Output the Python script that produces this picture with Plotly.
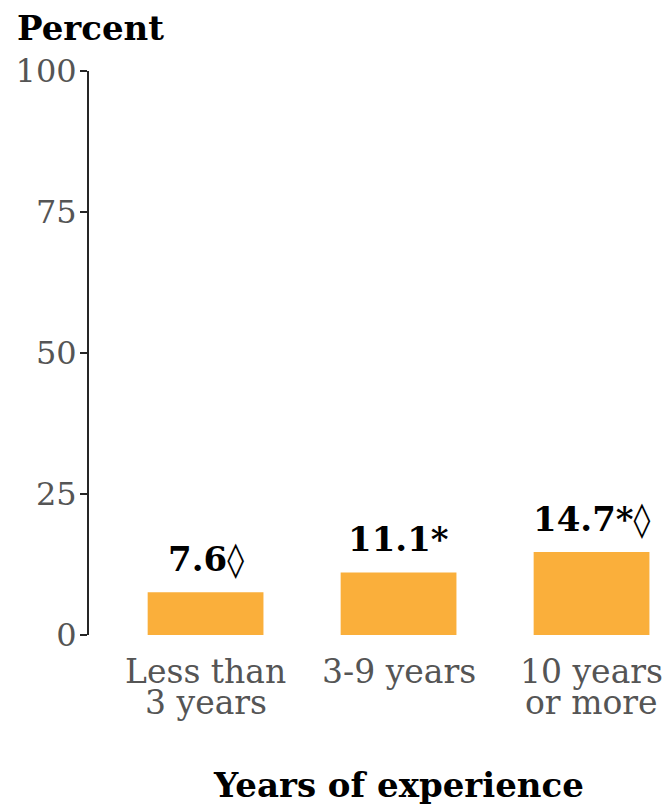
import plotly.graph_objects as go

# Share of teachers by years of experience
categories = ["Less than 3 years", "3-9 years", "10 years or more"]
label_line1 = ["Less than", "3-9 years", "10 years"]
label_line2 = ["3 years", "", "or more"]
values = [7.6, 11.1, 14.7]
value_marks = ["◊", "*", "*◊"]
y_ticks = [0, 25, 50, 75, 100]

SERIF = "DejaVu Serif"
BAR_COLOR = "#FAAF3B"
TICK_GRAY = "#555555"
AXIS_COLOR = "#262626"

fig = go.Figure(
    go.Bar(
        x=categories,
        y=values,
        marker=dict(color=BAR_COLOR, line=dict(width=0)),
        width=0.6,
        hoverinfo="skip",
    )
)

annotations = []
# Value labels above each bar
for cat, v, m in zip(categories, values, value_marks):
    num = f"{v:.1f}"
    if "◊" in m:
        star = m.replace("◊", "")
        text = f"<b>{num}{star}</b>◊"
    else:
        text = f"<b>{num}{m}</b>"
    annotations.append(dict(
        x=cat, y=v, xref="x", yref="y", text=text, showarrow=False,
        xanchor="center", yanchor="bottom", yshift=11,
        font=dict(family=SERIF, size=34, color="#000000"),
    ))

# Two-line category labels under the bars, set as tight separate rows
for cat, l1, l2 in zip(categories, label_line1, label_line2):
    annotations.append(dict(
        x=cat, y=0, xref="x", yref="paper", text=l1, showarrow=False,
        xanchor="center", yanchor="top", yshift=-15,
        font=dict(family=SERIF, size=33, color=TICK_GRAY),
    ))
    if l2:
        annotations.append(dict(
            x=cat, y=0, xref="x", yref="paper", text=l2, showarrow=False,
            xanchor="center", yanchor="top", yshift=-46,
            font=dict(family=SERIF, size=33, color=TICK_GRAY),
        ))

# Axis titles
annotations.append(dict(
    x=categories[1], y=0, xref="x", yref="paper", text="<b>Years of experience</b>",
    showarrow=False, xanchor="center", yanchor="top", yshift=-128,
    font=dict(family=SERIF, size=34, color="#000000"),
))
annotations.append(dict(
    x=0, y=1, xref="paper", yref="paper", text="<b>Percent</b>",
    showarrow=False, xanchor="left", yanchor="bottom", xshift=-74, yshift=21,
    font=dict(family=SERIF, size=34, color="#000000"),
))

fig.update_layout(
    width=667,
    height=806,
    margin=dict(l=89, r=0, t=71, b=171, pad=0),
    paper_bgcolor="#ffffff",
    plot_bgcolor="#ffffff",
    showlegend=False,
    annotations=annotations,
    xaxis=dict(
        type="category",
        range=[-0.604, 2.391],
        showticklabels=False,
        showline=False,
        showgrid=False,
        zeroline=False,
        ticks="",
    ),
    yaxis=dict(
        range=[0, 100],
        tickvals=y_ticks,
        showline=True,
        linecolor=AXIS_COLOR,
        linewidth=2,
        ticks="outside",
        ticklen=7,
        tickwidth=2,
        tickcolor=AXIS_COLOR,
        showgrid=False,
        zeroline=False,
        tickfont=dict(family=SERIF, size=32, color=TICK_GRAY),
        ticklabelstandoff=-3,
    ),
)

fig.write_html("out.html")
